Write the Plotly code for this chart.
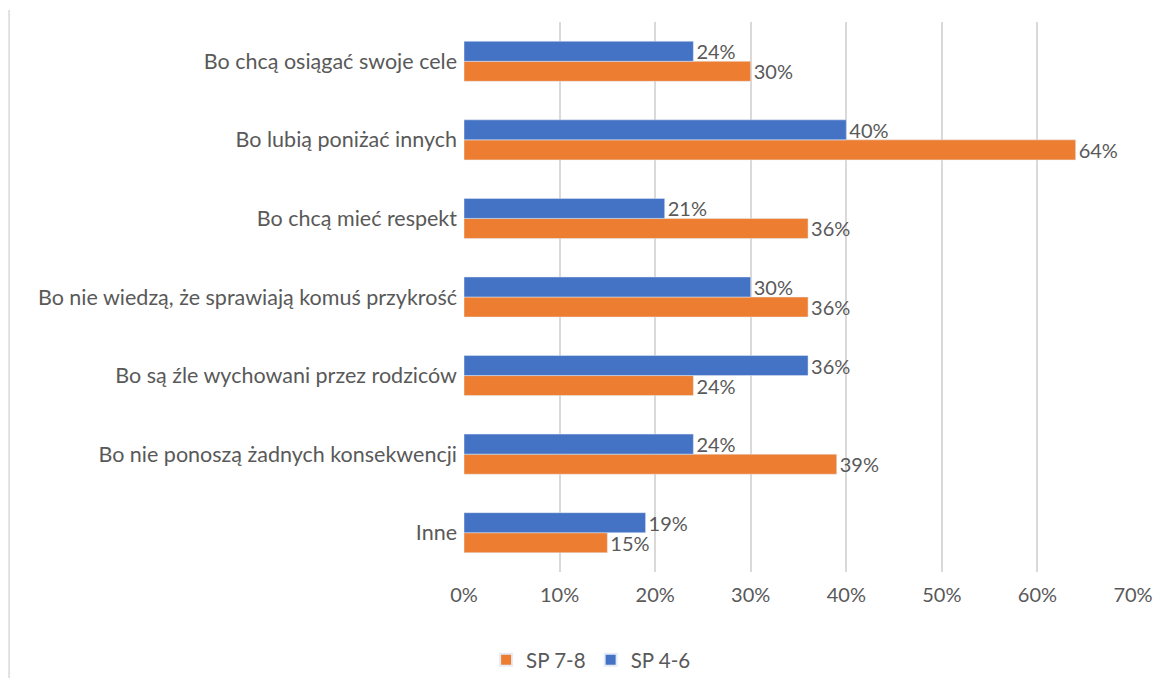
import plotly.graph_objects as go

categories = [
    "Inne",
    "Bo nie ponoszą żadnych konsekwencji",
    "Bo są źle wychowani przez rodziców",
    "Bo nie wiedzą, że sprawiają komuś przykrość",
    "Bo chcą mieć respekt",
    "Bo lubią poniżać innych",
    "Bo chcą osiągać swoje cele",
]
sp78 = [15, 39, 24, 36, 36, 64, 30]
sp46 = [19, 24, 36, 30, 21, 40, 24]
x_ticks = [0, 10, 20, 30, 40, 50, 60, 70]

FONT = "Lato"
GRAY = "#595959"
FS_CAT = 21.5
FS_LBL = 20
FS_TICK = 20
FS_LEG = 20.5

fig = go.Figure()
fig.add_trace(go.Bar(
    y=categories, x=sp78, name="SP 7-8", orientation="h",
    marker=dict(color="#ED7D31"),
    text=[f"{v}%" for v in sp78], textposition="outside",
    textfont=dict(size=FS_LBL, color=GRAY, family=FONT),
    constraintext="none", cliponaxis=False,
))
fig.add_trace(go.Bar(
    y=categories, x=sp46, name="SP 4-6", orientation="h",
    marker=dict(color="#4472C4"),
    text=[f"{v}%" for v in sp46], textposition="outside",
    textfont=dict(size=FS_LBL, color=GRAY, family=FONT),
    constraintext="none", cliponaxis=False,
))

fig.update_layout(
    width=1153, height=670,
    margin=dict(l=456, r=28, t=14, b=106, autoexpand=False),
    paper_bgcolor="white", plot_bgcolor="white",
    barmode="group", bargap=0.49, bargroupgap=0,
    font=dict(family=FONT, color=GRAY, size=FS_CAT),
    legend=dict(orientation="h", x=0.19, xanchor="center", y=-0.16, yanchor="middle",
                font=dict(size=FS_LEG, color=GRAY), traceorder="normal",
                itemwidth=30, itemsizing="constant"),
    showlegend=True,
)
fig.update_xaxes(
    range=[0, 70], tickvals=x_ticks, ticktext=[f"{t}%" for t in x_ticks],
    showgrid=True, gridcolor="#D9D9D9", gridwidth=1.5, zeroline=False,
    showline=False, ticks="", ticklabelstandoff=9,
    tickfont=dict(size=FS_TICK, color=GRAY, family=FONT),
)
fig.update_yaxes(
    showgrid=False, showline=False, ticks="", ticklabelstandoff=6,
    tickfont=dict(size=FS_CAT, color=GRAY, family=FONT),
)
fig.add_shape(type="line", xref="paper", yref="paper",
              x0=-0.680, x1=-0.680, y0=-0.2, y1=1.022,
              line=dict(color="#D9D9D9", width=1.5))

fig.write_html("out.html")
